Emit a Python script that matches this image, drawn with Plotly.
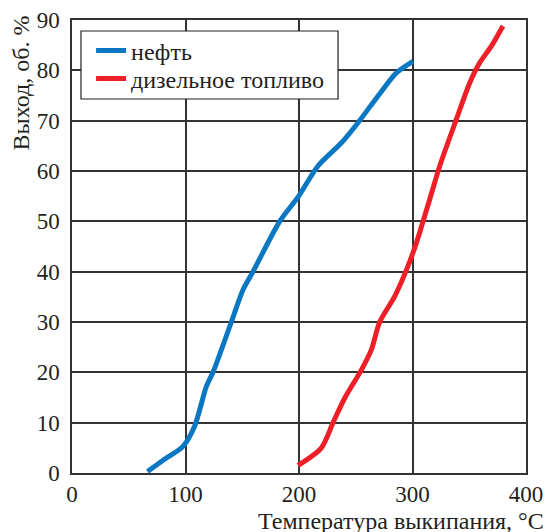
import plotly.graph_objects as go

oil_x = [66.5, 80, 97.8, 108, 118.4, 124.2, 140.4, 150.7, 159.5, 183, 199.7, 216.7, 237.4, 252, 269.6, 285.8, 300.4]
oil_y = [0.3, 2.5, 5.3, 9.3, 17.2, 20, 30, 36.4, 40, 50, 55, 61, 65.6, 69.6, 74.9, 79.5, 81.8]

diesel_x = [199.1, 219.7, 230, 240.3, 255, 263.8, 271.1, 284.3, 296, 303.4, 315.2, 324, 338.7, 350.4, 359.2, 369.5, 379.7]
diesel_y = [1.5, 5.0, 10, 14.9, 20.5, 24.5, 30, 35.1, 41.1, 45.7, 54.4, 61, 70.3, 77.5, 81.5, 84.8, 88.8]

names = ["нефть", "дизельное топливо"]
colors = ["#0a77c2", "#ee1f26"]

x_ticks = [0, 100, 200, 300, 400]
y_ticks = [0, 10, 20, 30, 40, 50, 60, 70, 80, 90]

FONT = "Liberation Serif, Times New Roman, serif"
TXT = "#231f20"
LEG_FONT = dict(family=FONT, size=24, color=TXT)


def serif(t):
    return f"<span style='font-family:Liberation Serif'>{t}</span>"


fig = go.Figure()
fig.add_trace(go.Scatter(x=oil_x, y=oil_y, mode="lines", name=serif(names[0]), legend="legend",
                         line=dict(color=colors[0], width=5, shape="spline", smoothing=0.8)))
fig.add_trace(go.Scatter(x=diesel_x, y=diesel_y, mode="lines", name=serif(names[1]), legend="legend2",
                         line=dict(color=colors[1], width=5, shape="spline", smoothing=0.8)))

fig.update_layout(
    template="none",
    width=546, height=532,
    margin=dict(l=72, r=20, t=20, b=59, autoexpand=False),
    paper_bgcolor="white", plot_bgcolor="white",
    font=dict(family=FONT, size=23, color=TXT),
    showlegend=True,
    legend=dict(x=0.042, y=0.932, xanchor="left", yanchor="middle",
                bgcolor="rgba(0,0,0,0)", borderwidth=0, font=LEG_FONT, itemwidth=30),
    legend2=dict(x=0.042, y=0.870, xanchor="left", yanchor="middle",
                 bgcolor="rgba(0,0,0,0)", borderwidth=0, font=LEG_FONT, itemwidth=30),
    shapes=[dict(type="rect", xref="paper", yref="paper", x0=0.0198, x1=0.586, y0=0.8256, y1=0.9757,
                 line=dict(color=TXT, width=1.2), fillcolor="white", layer="above")],
    xaxis=dict(range=[0, 400], tickmode="array", tickvals=x_ticks,
               ticktext=[serif(v) for v in x_ticks],
               showgrid=True, gridcolor="#333333", gridwidth=1.5,
               showline=True, linecolor="#333333", linewidth=1.5, mirror=True, zeroline=False,
               ticks="", automargin=False, tickfont=dict(family=FONT, size=23, color=TXT)),
    yaxis=dict(range=[0, 90], tickmode="array", tickvals=y_ticks,
               ticktext=[serif(v) for v in y_ticks],
               showgrid=True, gridcolor="#333333", gridwidth=1.5,
               showline=True, linecolor="#333333", linewidth=1.5, mirror=True, zeroline=False,
               ticks="", automargin=False, ticklabelstandoff=6,
               tickfont=dict(family=FONT, size=23, color=TXT)),
    annotations=[
        dict(text="Температура выкипания, °C", xref="paper", yref="paper", x=1.044, y=-0.106,
             xanchor="right", yanchor="middle", showarrow=False,
             font=dict(family=FONT, size=24, color=TXT)),
        dict(text="Выход, об. %", xref="paper", yref="paper", x=-0.113, y=1.015,
             xanchor="center", yanchor="top", textangle=-90, showarrow=False,
             font=dict(family=FONT, size=24, color=TXT)),
    ],
)

fig.write_html("out.html", config={"displayModeBar": False},
               post_script="document.body.style.margin='0';")
